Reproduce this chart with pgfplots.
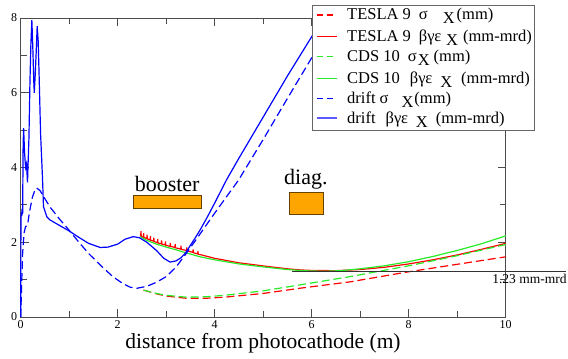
\documentclass[border=0pt]{standalone}
\usepackage{fontspec}
\setmainfont{Liberation Serif}
\usepackage{pgfplots}
\pgfplotsset{compat=1.18}
\definecolor{myred}{RGB}{255,0,0}
\definecolor{mygreen}{RGB}{40,235,40}
\definecolor{myblue}{RGB}{0,0,255}
\definecolor{lblue}{RGB}{90,90,255}
\definecolor{orng}{RGB}{255,165,0}
\newcommand\lx{\lower4pt\hbox{X}}
\newcommand\h[1]{\hspace*{#1pt}}
\tikzset{legtext/.style={font=\rmfamily\fontsize{16.5}{16.5}\selectfont, anchor=base west, inner sep=0pt}}
\begin{document}
\begin{tikzpicture}
\begin{axis}[name=ax, scale only axis, width=485pt, height=299pt,
  xmin=0, xmax=10, ymin=0, ymax=8,
  xtick={0,2,...,10}, ytick={0,2,...,8},
  minor xtick={1,3,5,7,9}, minor ytick={1,3,5,7},
  tick align=inside, major tick length=8pt, minor tick length=6pt,
  axis line style={draw=black!70, line width=0.8pt},
  every tick/.style={black!70, line width=0.8pt},
  tick label style={font=\rmfamily\fontsize{12}{12}\selectfont},
  /pgf/number format/assume math mode=true,
  xlabel={distance from photocathode (m)},
  xlabel style={font=\rmfamily\fontsize{21.5}{22}\selectfont, at={(axis description cs:0.4996,0)}, anchor=base, yshift=-31pt},
  clip=false,
  every axis plot/.append style={line width=1.2pt},
]
% TESLA 9 sigma_x (red dashed)
\addplot[myred, dash pattern=on 8pt off 4pt] coordinates {
(2.53,0.72)(2.8,0.62)(3.0,0.56)(3.42,0.50)(3.8,0.50)(4.2,0.53)(5.0,0.63)(5.76,0.77)(6.79,0.94)(8,1.21)(9,1.41)(10,1.61)};
% TESLA 9 emittance (red solid)
\addplot[myred] coordinates {
(2.46,2.17)(2.475,2.17)(2.48,2.30)(2.485,2.16)(2.53,2.13)(2.535,2.24)(2.54,2.13)(2.60,2.10)(2.605,2.20)(2.61,2.09)(2.67,2.06)(2.675,2.16)(2.68,2.05)(2.74,2.03)(2.745,2.12)(2.75,2.02)(2.82,1.99)(2.825,2.08)(2.83,1.98)(2.90,1.96)(2.905,2.05)(2.91,1.95)(2.98,1.93)(2.985,2.02)(2.99,1.92)(3.08,1.89)(3.085,1.98)(3.09,1.89)(3.18,1.86)(3.185,1.95)(3.19,1.85)(3.30,1.82)(3.305,1.91)(3.31,1.81)(3.42,1.78)(3.425,1.86)(3.43,1.77)(3.55,1.73)(3.555,1.81)(3.56,1.72)(3.65,1.69)(3.655,1.76)(3.66,1.68)(3.70,1.67)(4.0,1.57)(4.5,1.45)(5.07,1.355)(5.5,1.29)(5.76,1.26)(6.0,1.245)(6.5,1.24)(7.0,1.27)(7.5,1.33)(8,1.42)(8.5,1.53)(9,1.66)(9.5,1.81)(10,1.97)};
% CDS 10 sigma_x (green dashed)
\addplot[mygreen, dash pattern=on 8pt off 4pt] coordinates {
(2.53,0.72)(2.8,0.63)(3.0,0.58)(3.42,0.53)(3.8,0.54)(4.2,0.58)(5.0,0.70)(5.76,0.86)(6.79,1.08)(8,1.37)(9,1.64)(10,1.94)};
% CDS 10 emittance (green solid)
\addplot[mygreen] coordinates {
(2.46,2.15)(2.6,2.05)(2.8,1.95)(3.0,1.87)(3.2,1.80)(3.4,1.72)(3.7,1.61)(4.0,1.53)(4.5,1.42)(5.07,1.33)(5.5,1.27)(5.76,1.245)(6.0,1.23)(6.3,1.225)(6.6,1.24)(7.0,1.29)(7.5,1.37)(8.0,1.48)(8.5,1.62)(9.0,1.78)(9.5,1.96)(10,2.17)};
% drift sigma_x (blue dashed)
\addplot[myblue, dash pattern=on 8pt off 4pt] coordinates {
(0,0)(0.02,0.9)(0.04,1.7)(0.07,2.25)(0.1,2.42)(0.14,2.45)(0.18,2.8)(0.24,3.2)(0.3,3.42)(0.33,3.45)(0.4,3.38)(0.45,3.27)(0.6,2.95)(0.8,2.62)(1.0,2.32)(1.2,2.0)(1.4,1.7)(1.64,1.39)(1.9,1.08)(2.1,0.9)(2.25,0.8)(2.4,0.77)(2.6,0.82)(2.8,0.93)(3.0,1.08)(3.2,1.33)(3.39,1.66)(3.6,2.04)(3.8,2.41)(4.0,2.78)(4.25,3.23)(4.49,3.66)(5.0,4.75)(5.5,5.85)(5.97,6.87)(6.3,7.6)(6.45,7.95)};
% drift emittance (blue solid)
\addplot[myblue] coordinates {
(0,0)(0.005,2.5)(0.01,2.8)(0.02,2.7)(0.03,2.9)(0.04,2.75)(0.05,4.6)(0.06,5.05)(0.08,4.4)(0.1,4.0)(0.12,4.1)(0.14,3.6)(0.17,4.8)(0.19,6.25)(0.21,7.3)(0.23,7.94)(0.25,7.2)(0.27,6.3)(0.28,6.0)(0.30,6.5)(0.32,7.1)(0.34,7.78)(0.36,7.4)(0.38,6.45)(0.41,4.9)(0.45,3.7)(0.47,2.95)(0.54,2.68)(0.6,2.6)(0.8,2.45)(1.0,2.3)(1.2,2.13)(1.4,1.97)(1.64,1.86)(1.8,1.87)(2.0,1.95)(2.15,2.08)(2.32,2.15)(2.45,2.12)(2.6,2.0)(2.8,1.78)(2.95,1.57)(3.08,1.47)(3.2,1.5)(3.3,1.58)(3.39,1.7)(3.5,1.92)(3.6,2.12)(3.7,2.33)(3.85,2.68)(4.0,3.05)(4.24,3.66)(4.5,4.25)(5.0,5.35)(5.5,6.45)(6.0,7.5)(6.2,7.95)};
% reference line 1.23 mm-mrd
\draw[black!80, line width=0.7pt] (axis cs:5.6,1.23) -- (axis cs:11.25,1.23);
\node[font=\rmfamily\fontsize{13.5}{14}\selectfont, anchor=west, inner sep=0pt] at (axis cs:9.72,1.02) {1.23 mm-mrd};
% booster and diagnostics blocks
\draw[fill=orng, draw=black!60!orng, line width=0.8pt] (axis cs:2.32,2.91) rectangle (axis cs:3.72,3.26);
\node[font=\rmfamily\fontsize{22}{22}\selectfont, anchor=base, inner sep=0pt] at (axis cs:3.02,3.36) {booster};
\draw[fill=orng, draw=black!60!orng, line width=0.8pt] (axis cs:5.53,2.75) rectangle (axis cs:6.24,3.34);
\node[font=\rmfamily\fontsize{22}{22}\selectfont, anchor=base, inner sep=0pt] at (axis cs:5.88,3.55) {diag.};
% legend box
\draw[fill=white, draw=black!60, line width=0.8pt] (axis cs:6.006,8.348) rectangle (axis cs:10.584,5.0);
\draw[myred, line width=1.2pt, dash pattern=on 6pt off 4pt] (axis cs:6.109,8.08) -- (axis cs:6.521,8.08);
\node[legtext] at (axis cs:6.728,7.95) {TESLA 9\h{8}σ\h{15}\lx\h{2}(mm)};
\draw[myred, line width=1.2pt] (axis cs:6.109,7.50) -- (axis cs:6.521,7.50);
\node[legtext] at (axis cs:6.728,7.37) {TESLA 9\h{8}βγε\h{5}\lx\h{5}(mm-mrd)};
\draw[mygreen, line width=1.2pt, dash pattern=on 6pt off 4pt] (axis cs:6.109,6.96) -- (axis cs:6.521,6.96);
\node[legtext] at (axis cs:6.728,6.83) {CDS 10\h{8}σ\h{1}\lx\h{4}(mm)};
\draw[mygreen, line width=1.2pt] (axis cs:6.109,6.39) -- (axis cs:6.521,6.39);
\node[legtext] at (axis cs:6.728,6.26) {CDS 10\h{10}βγε\h{8}\lx\h{9}(mm-mrd)};
\draw[myblue, line width=1.2pt, dash pattern=on 6pt off 4pt] (axis cs:6.109,5.85) -- (axis cs:6.521,5.85);
\node[legtext] at (axis cs:6.728,5.72) {drift\h{4}σ\h{13}\lx\h{1}(mm)};
\draw[lblue, line width=1.5pt] (axis cs:6.109,5.32) -- (axis cs:6.521,5.32);
\node[legtext] at (axis cs:6.728,5.19) {drift\h{10}βγε\h{8}\lx\h{8}(mm-mrd)};
\end{axis}
\pgfresetboundingbox
\path[use as bounding box] ([shift={(-20.7pt,-42pt)}]ax.south west) rectangle ++(568pt,359pt);
\end{tikzpicture}
\end{document}
